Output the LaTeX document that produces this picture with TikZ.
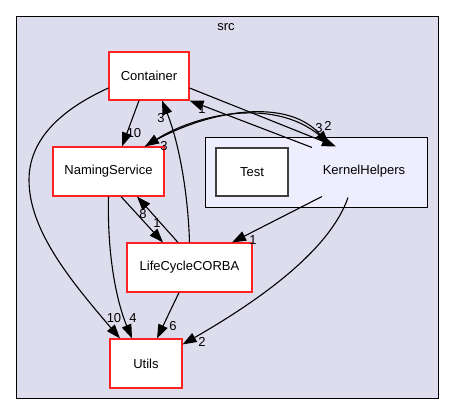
\documentclass[tikz,border=0pt]{standalone}
\usepackage{fontspec}
\setmainfont{Liberation Sans}
\usetikzlibrary{arrows.meta}
\definecolor{outerfill}{HTML}{DDDDEE}
\definecolor{innerfill}{HTML}{EEEEFF}
\definecolor{nodered}{HTML}{FF2222}
\definecolor{testgrey}{HTML}{404040}
\tikzset{
  dirnode/.style={draw=nodered, fill=white, line width=1.1pt, inner sep=0pt, font=\fontsize{13}{15}\selectfont},
  cluster/.style={draw=black, line width=1pt, inner sep=0pt},
  dep/.style={draw=black, line width=1.1pt, -{Triangle[length=14pt,width=10pt]}},
  lbl/.style={font=\fontsize{13}{15}\selectfont, inner sep=0pt},
}
\begin{document}
\begin{tikzpicture}[x=1pt,y=-1pt]
\useasboundingbox (0,0) rectangle (453,415);
% outer cluster
\node[cluster, draw=black, fill=outerfill, minimum width=422pt, minimum height=382pt] (src) at (227,207) {};
\node[lbl] (srclbl) at (226,27) {src};
% KernelHelpers cluster
\node[cluster, fill=innerfill, minimum width=222pt, minimum height=70pt] (kh) at (316,172) {};
\node[lbl] (khlbl) at (364,171) {KernelHelpers};
\node[dirnode, draw=testgrey, minimum width=72pt, minimum height=48pt] (test) at (252,172) {Test};
% directory nodes
\node[dirnode, minimum width=80pt, minimum height=48pt] (container) at (149,76) {Container};
\node[dirnode, minimum width=111pt, minimum height=49pt] (ns) at (108.5,171.5) {NamingService};
\node[dirnode, minimum width=125pt, minimum height=49pt] (lcc) at (189.5,267.5) {LifeCycleCORBA};
\node[dirnode, minimum width=72pt, minimum height=49pt] (utils) at (146,363.5) {Utils};
% edges
\draw[dep] ([xshift=-10pt]container.south) -- ([xshift=13.5pt]ns.north)
  node[lbl, at={(134,133)}] {10};
\draw[dep] ([yshift=-12pt]container.west) .. controls (60,110) and (29,140) .. (29,180)
  .. controls (29,230) and (70,280) .. ([xshift=-26pt]utils.north)
  node[lbl, at={(114,318)}] {10};
\draw[dep] (ns.south) .. controls (107,260) and (118,305) .. ([xshift=-14pt]utils.north)
  node[lbl, at={(133,318)}] {4};
\draw[dep] ([xshift=12.5pt]ns.south) -- ([xshift=-26.5pt]lcc.north)
  node[lbl, at={(157,223)}] {1};
\draw[dep] ([xshift=-11.5pt]lcc.north) -- ([xshift=28.5pt]ns.south)
  node[lbl, at={(143,214)}] {8};
\draw[dep] (lcc.north) .. controls (188,190) and (178,140) .. ([xshift=13pt]container.south)
  node[lbl, at={(161,118)}] {3};
\draw[dep] ([xshift=-4pt,yshift=-11pt]kh.north) -- (container.south east)
  node[lbl, at={(202,109)}] {1};
\draw[dep] ([yshift=-12pt]container.east) -- ([xshift=20pt,yshift=-10pt]kh.north)
  node[lbl, at={(328,126)}] {2};
\draw[dep] ([xshift=36.5pt]ns.north) .. controls (200,112) and (285,95) .. ([xshift=13pt,yshift=-8pt]kh.north)
  node[lbl, at={(319,128)}] {3};
\draw[dep] ([xshift=13pt,yshift=-8pt]kh.north) .. controls (285,95) and (200,112) .. ([xshift=36.5pt]ns.north)
  node[lbl, at={(164,146)}] {3};
\draw[dep] ([xshift=6pt,yshift=11pt]kh.south) -- ([xshift=42.5pt]lcc.north)
  node[lbl, at={(253,240)}] {1};
\draw[dep] ([xshift=32pt,yshift=10pt]kh.south) .. controls (330,250) and (260,300) .. ([yshift=-6pt]utils.north east)
  node[lbl, at={(202,342)}] {2};
\draw[dep] ([xshift=-10.5pt]lcc.south) -- ([xshift=11pt]utils.north)
  node[lbl, at={(173,326)}] {6};
\end{tikzpicture}
\end{document}
